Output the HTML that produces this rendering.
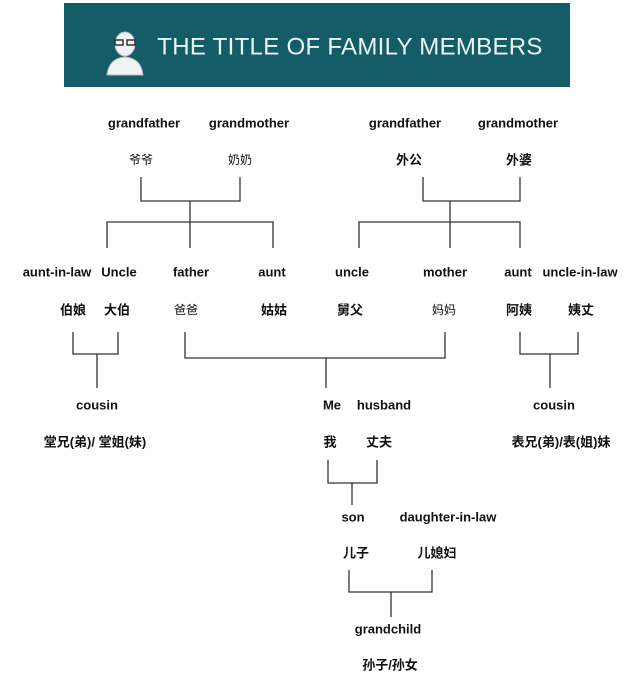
<!DOCTYPE html>
<html><head><meta charset="utf-8"><style>
html,body{margin:0;padding:0;background:#fff;}
svg{display:block}
text{font-family:"Liberation Sans","Noto Sans CJK SC",sans-serif;font-size:13px;font-weight:bold;fill:#111;text-anchor:middle;dominant-baseline:central}
.zh{font-size:12px;font-weight:normal}
.zb{font-size:13px;font-weight:bold}
line,polyline{stroke:#333;stroke-width:1.3;fill:none}
</style></head><body>
<svg width="640" height="680" viewBox="0 0 640 680">
<rect x="64" y="3" width="506" height="84" fill="#135c68"/>
<g fill="#eef4f4" stroke="#bbb" stroke-width="1">
<path d="M107 75 Q109 58 125 57 Q141 58 143 75 Z"/>
<ellipse cx="125" cy="44" rx="10" ry="12"/>
</g>
<g stroke="#333" stroke-width="1.5" fill="none"><rect x="115" y="40" width="8" height="5"/><rect x="127" y="40" width="8" height="5"/></g>
<text x="350" y="47" style="font-size:24px;font-weight:normal;fill:#e8f6f6;letter-spacing:0.3px">THE TITLE OF FAMILY MEMBERS</text>

<text x="144" y="123">grandfather</text><text x="249" y="123">grandmother</text>
<text x="405" y="123">grandfather</text><text x="518" y="123">grandmother</text>
<text class="zh" x="141" y="160">爷爷</text><text class="zh" x="240" y="160">奶奶</text>
<text class="zb" x="409" y="160">外公</text><text class="zb" x="519" y="160">外婆</text>

<polyline points="141,177 141,201 240,201 240,177"/><line x1="190" y1="201" x2="190" y2="222"/>
<polyline points="107,248 107,222 273,222 273,248"/><line x1="190" y1="222" x2="190" y2="248"/>
<polyline points="423,177 423,201 520,201 520,177"/><line x1="450" y1="201" x2="450" y2="222"/>
<polyline points="359,248 359,222 520,222 520,248"/><line x1="450" y1="222" x2="450" y2="248"/>

<text x="57" y="272">aunt-in-law</text><text x="119" y="272">Uncle</text><text x="191" y="272">father</text><text x="272" y="272">aunt</text>
<text x="352" y="272">uncle</text><text x="445" y="272">mother</text><text x="518" y="272">aunt</text><text x="580" y="272">uncle-in-law</text>
<text class="zb" x="73" y="310">伯娘</text><text class="zb" x="117" y="310">大伯</text><text class="zh" x="186" y="310">爸爸</text><text class="zb" x="274" y="310">姑姑</text>
<text class="zb" x="350" y="310">舅父</text><text class="zh" x="444" y="310">妈妈</text><text class="zb" x="519" y="310">阿姨</text><text class="zb" x="581" y="310">姨丈</text>

<polyline points="73,332 73,354 118,354 118,332"/><line x1="97" y1="354" x2="97" y2="388"/>
<polyline points="185,332 185,358 445,358 445,332"/><line x1="326" y1="358" x2="326" y2="388"/>
<polyline points="520,332 520,354 578,354 578,332"/><line x1="550" y1="354" x2="550" y2="388"/>

<text x="97" y="405">cousin</text><text x="332" y="405">Me</text><text x="384" y="405">husband</text><text x="554" y="405">cousin</text>
<text class="zb" x="95" y="442">堂兄(弟)/ 堂姐(妹)</text><text class="zb" x="330" y="442">我</text><text class="zb" x="379" y="442">丈夫</text><text class="zb" x="561" y="442">表兄(弟)/表(姐)妹</text>

<polyline points="328,460 328,483 377,483 377,460"/><line x1="352" y1="483" x2="352" y2="505"/>
<text x="353" y="517">son</text><text x="448" y="517">daughter-in-law</text>
<text class="zb" x="356" y="553">儿子</text><text class="zb" x="437" y="553">儿媳妇</text>
<polyline points="349,570 349,592 432,592 432,570"/><line x1="391" y1="592" x2="391" y2="617"/>
<text x="388" y="629">grandchild</text>
<text class="zb" x="390" y="665">孙子/孙女</text>
</svg>
</body></html>
